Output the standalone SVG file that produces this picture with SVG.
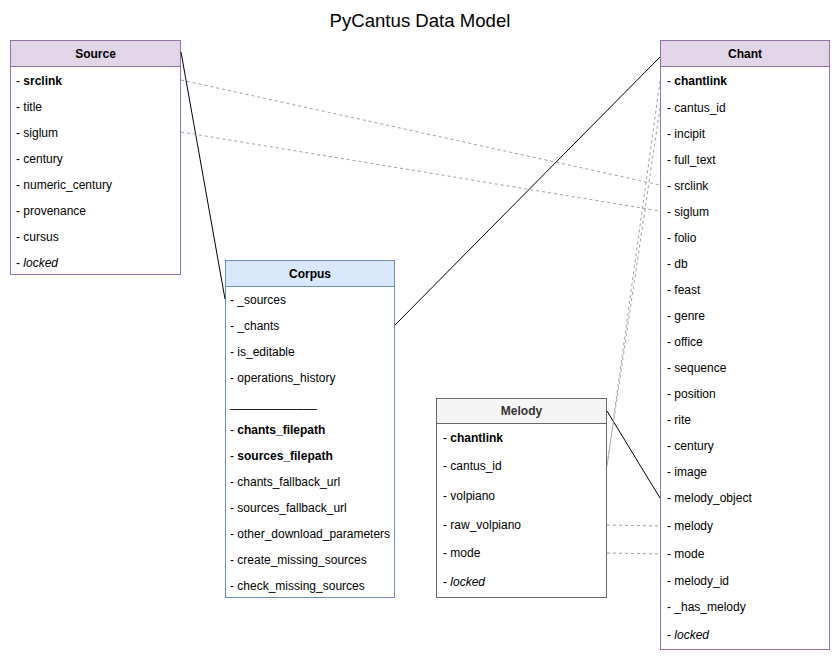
<svg xmlns="http://www.w3.org/2000/svg" width="840" height="660" viewBox="0 0 840 660">
<style>
text{font-family:"Liberation Sans",Arial,sans-serif;font-size:12px;fill:#000}
.title{font-size:18.6px;text-anchor:middle}
.hd{font-weight:bold;text-anchor:middle}
.b{font-weight:bold}
.i{font-style:italic}
.purple{fill:#e1d5e7;stroke:#9673a6}
.blue{fill:#dae8fc;stroke:#6c8ebf}
.grey{fill:#f5f5f5;stroke:#666666}
.body{fill:#ffffff}
.solid{stroke:#000;stroke-width:1;fill:none}
.dash{stroke:#a0a0a0;stroke-width:1;fill:none;stroke-dasharray:3 3}
</style>
<rect width="840" height="660" fill="#ffffff"/>
<text class="title" x="420" y="27">PyCantus Data Model</text>

<g id="source">
<rect class="purple body" x="10.5" y="40.5" width="170" height="234"/>
<rect class="purple" x="10.5" y="40.5" width="170" height="26"/>
<text class="hd" x="95.5" y="58">Source</text>
<text x="16" y="85">- <tspan class="b">srclink</tspan></text>
<text x="16" y="111">- title</text>
<text x="16" y="137">- siglum</text>
<text x="16" y="163">- century</text>
<text x="16" y="189">- numeric_century</text>
<text x="16" y="215">- provenance</text>
<text x="16" y="241">- cursus</text>
<text x="16" y="267">- <tspan class="i">locked</tspan></text>
</g>

<g id="corpus">
<rect class="blue body" x="225.5" y="260.5" width="169" height="337"/>
<rect class="blue" x="225.5" y="260.5" width="169" height="26"/>
<text class="hd" x="310" y="278">Corpus</text>
<text x="230" y="304">- _sources</text>
<text x="230" y="330">- _chants</text>
<text x="230" y="356">- is_editable</text>
<text x="230" y="382">- operations_history</text>
<text x="230" y="407">_____________</text>
<text x="230" y="434">- <tspan class="b">chants_filepath</tspan></text>
<text x="230" y="460">- <tspan class="b">sources_filepath</tspan></text>
<text x="230" y="486">- chants_fallback_url</text>
<text x="230" y="512">- sources_fallback_url</text>
<text x="230" y="538">- other_download_parameters</text>
<text x="230" y="564">- create_missing_sources</text>
<text x="230" y="590">- check_missing_sources</text>
</g>

<g id="melody">
<rect class="grey body" x="436.5" y="398.5" width="170" height="199"/>
<rect class="grey" x="436.5" y="398.5" width="170" height="25"/>
<text class="hd" x="521.5" y="415" style="fill:#333333">Melody</text>
<text x="443" y="442">- <tspan class="b">chantlink</tspan></text>
<text x="443" y="470">- cantus_id</text>
<text x="443" y="500">- volpiano</text>
<text x="443" y="529">- raw_volpiano</text>
<text x="443" y="557">- mode</text>
<text x="443" y="586">- <tspan class="i">locked</tspan></text>
</g>

<g id="chant">
<rect class="purple body" x="660.5" y="40.5" width="169" height="609"/>
<rect class="purple" x="660.5" y="40.5" width="169" height="26"/>
<text class="hd" x="745" y="58">Chant</text>
<text x="667" y="85">- <tspan class="b">chantlink</tspan></text>
<text x="667" y="112">- cantus_id</text>
<text x="667" y="138">- incipit</text>
<text x="667" y="164">- full_text</text>
<text x="667" y="190">- srclink</text>
<text x="667" y="216">- siglum</text>
<text x="667" y="242">- folio</text>
<text x="667" y="268">- db</text>
<text x="667" y="294">- feast</text>
<text x="667" y="320">- genre</text>
<text x="667" y="346">- office</text>
<text x="667" y="372">- sequence</text>
<text x="667" y="398">- position</text>
<text x="667" y="424">- rite</text>
<text x="667" y="450">- century</text>
<text x="667" y="476">- image</text>
<text x="667" y="502">- melody_object</text>
<text x="667" y="530">- melody</text>
<text x="667" y="558">- mode</text>
<text x="667" y="585">- melody_id</text>
<text x="667" y="611">- _has_melody</text>
<text x="667" y="639">- <tspan class="i">locked</tspan></text>
</g>

<g id="connectors">
<line class="solid" x1="181" y1="52" x2="225" y2="299"/>
<line class="solid" x1="395" y1="325" x2="660" y2="57"/>
<line class="solid" x1="607" y1="411" x2="660" y2="498"/>
<line class="dash" x1="181" y1="80" x2="660" y2="185"/>
<line class="dash" x1="181" y1="132" x2="660" y2="211"/>
<line class="dash" x1="660" y1="81" x2="607" y2="466"/>
<line class="dash" x1="660" y1="108" x2="607" y2="466"/>
<line class="dash" x1="607" y1="525" x2="660" y2="526"/>
<line class="dash" x1="607" y1="553" x2="660" y2="554"/>
</g>
</svg>
